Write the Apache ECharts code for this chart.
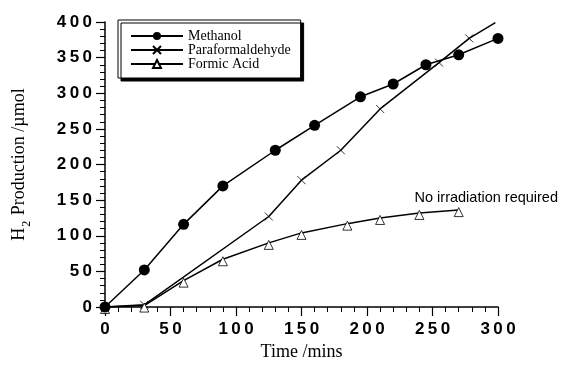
<!DOCTYPE html>
<html>
<head>
<meta charset="utf-8">
<script src="https://cdn.jsdelivr.net/npm/echarts@6/dist/echarts.min.js"></script>
<style>
  html, body { margin: 0; padding: 0; background: #fff; }
  #chart { width: 563px; height: 371px; }
</style>
</head>
<body>
<div id="chart"></div>
<script>
// valores (tiempo en min, H2 en umol)
const methanolTime = [0, 30, 60, 90, 130, 160, 195, 220, 245, 270, 300];
const methanolH2 = [0, 52, 116, 170, 220, 255, 295, 313, 340, 354, 377];

const paraTime = [0, 30, 125, 150, 180, 210, 255, 278, 298];
const paraH2 = [0, 3, 127, 178, 220, 278, 343, 377, 399];

const formicTime = [0, 30, 60, 90, 125, 150, 185, 210, 240, 270];
const formicH2 = [0, 2, 37, 67, 90, 104, 117, 125, 132, 136];

const seriesNames = ['Methanol', 'Paraformaldehyde', 'Formic Acid'];
const noteText = 'No irradiation required';

const xPath = 'path://M0,0L10,10M10,0L0,10';

function pairs(xs, ys) {
  return xs.map((x, i) => [x, ys[i]]);
}

const spaced = (v) => String(v).split('').join('\u2009');

const chart = echarts.init(document.getElementById('chart'), null, { renderer: 'canvas' });

// el ultimo punto de paraformaldehido no lleva marca
const paraData = pairs(paraTime, paraH2).map((p, i, arr) =>
  i === arr.length - 1 ? { value: p, symbol: 'none' } : p
);

chart.setOption({
  animation: false,
  backgroundColor: '#fff',
  grid: { left: 105, right: 65, top: 22, bottom: 64 },
  legend: {
    orient: 'vertical',
    left: 118,
    top: 20,
    padding: [9, 10, 7, 12],
    itemGap: 0,
    itemWidth: 52,
    itemHeight: 10,
    backgroundColor: '#fff',
    borderColor: '#000',
    borderWidth: 1,
    shadowColor: '#000',
    shadowBlur: 0,
    shadowOffsetX: 3,
    shadowOffsetY: 3,
    textStyle: { fontFamily: 'Liberation Serif', fontSize: 14, color: '#000' },
    data: seriesNames
  },
  xAxis: {
    type: 'value',
    min: 0,
    max: 300,
    interval: 50,
    name: 'Time /mins',
    nameLocation: 'middle',
    nameGap: 35,
    nameTextStyle: { fontFamily: 'Liberation Serif', fontSize: 18, color: '#000' },
    axisLine: { lineStyle: { color: '#000', width: 1.5 } },
    axisTick: { length: 9, lineStyle: { color: '#000', width: 1.2 } },
    minorTick: { show: true, splitNumber: 5, length: 5, lineStyle: { color: '#000', width: 1 } },
    splitLine: { show: false },
    axisLabel: {
      margin: 14,
      fontFamily: 'Liberation Sans',
      fontWeight: 'bold',
      fontSize: 17,
      color: '#000',
      formatter: spaced
    }
  },
  yAxis: {
    type: 'value',
    min: 0,
    max: 400,
    interval: 50,
    name: 'H{sub|2} Production /µmol',
    nameLocation: 'middle',
    nameGap: 72,
    nameTextStyle: {
      fontFamily: 'Liberation Serif',
      fontSize: 18,
      color: '#000',
      rich: {
        sub: { fontFamily: 'Liberation Serif', fontSize: 12, padding: [16, 1, 0, 1] }
      }
    },
    axisLine: { show: true, lineStyle: { color: '#000', width: 1.5 } },
    axisTick: { show: true, length: 9, lineStyle: { color: '#000', width: 1.2 } },
    minorTick: { show: true, splitNumber: 5, length: 5, lineStyle: { color: '#000', width: 1 } },
    splitLine: { show: false },
    axisLabel: {
      margin: 13,
      fontFamily: 'Liberation Sans',
      fontWeight: 'bold',
      fontSize: 17,
      color: '#000',
      formatter: spaced
    }
  },
  series: [
    {
      name: seriesNames[0],
      type: 'line',
      data: pairs(methanolTime, methanolH2),
      symbol: 'circle',
      symbolSize: 11,
      itemStyle: { color: '#000' },
      lineStyle: { color: '#000', width: 1.5 },
      z: 3
    },
    {
      name: seriesNames[1],
      type: 'line',
      data: paraData,
      symbol: xPath,
      symbolSize: 8,
      itemStyle: { color: 'none', borderColor: '#000', borderWidth: 0.8 },
      lineStyle: { color: '#000', width: 1.5 },
      z: 2
    },
    {
      name: seriesNames[2],
      type: 'line',
      data: pairs(formicTime, formicH2),
      symbol: 'triangle',
      symbolSize: 9,
      symbolOffset: [0, 2],
      itemStyle: { color: '#fff', borderColor: '#000', borderWidth: 0.8 },
      lineStyle: { color: '#000', width: 1.5 },
      z: 2
    }
  ],
  graphic: [
    {
      type: 'text',
      right: 5,
      top: 190,
      style: {
        text: noteText,
        font: '14.5px "Liberation Sans"',
        fill: '#000'
      }
    }
  ]
});
</script>
</body>
</html>
